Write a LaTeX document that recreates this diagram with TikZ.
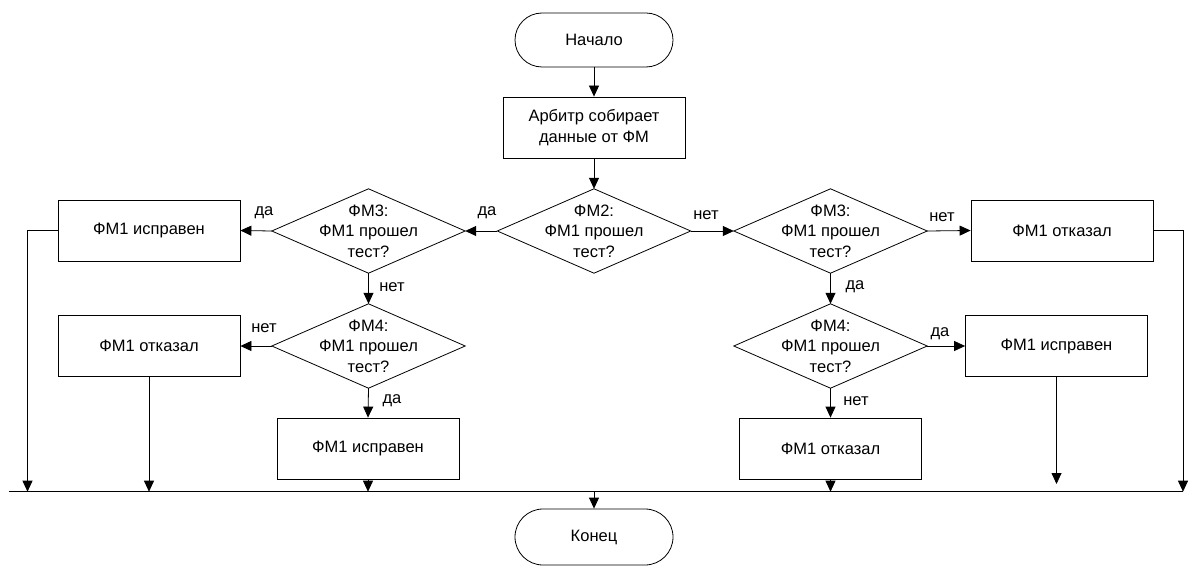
\documentclass[tikz,border=0pt]{standalone}
\usepackage{fontspec}
\setmainfont{Liberation Sans}
\usetikzlibrary{arrows.meta}
\begin{document}
\begin{tikzpicture}[x=1pt,y=-1pt,
  every node/.style={font=\fontsize{16.5}{20.5}\selectfont, inner sep=0pt},
  box/.style={draw, rectangle, minimum width=182pt, minimum height=61pt, align=center, line width=0.8pt},
  term/.style={draw, rectangle, rounded corners=27pt, minimum width=158pt, minimum height=54pt, line width=0.8pt},
  dia/.style={rectangle, minimum width=193pt, minimum height=84pt, align=center},
  diaedge/.style={draw, line width=0.8pt},
  conn/.style={line width=0.8pt},
  arr/.style={conn, -{Triangle[length=11pt,width=10pt]}},
  lbl/.style={}
]
\useasboundingbox (0,0) rectangle (1190,567);

% nodes
\node[term] (start) at (594,40) {Начало};
\node[box] (arb) at (594,127.5) {Арбитр собирает\\данные от ФМ};
\node[dia] (d2) at (594,231) {ФМ2:\\ФМ1 прошел\\тест?};
\node[dia] (d3L) at (368.5,231) {ФМ3:\\ФМ1 прошел\\тест?};
\node[dia] (d3R) at (830.5,231) {ФМ3:\\ФМ1 прошел\\тест?};
\node[dia] (d4L) at (368.5,346) {ФМ4:\\ФМ1 прошел\\тест?};
\node[dia] (d4R) at (830.5,346) {ФМ4:\\ФМ1 прошел\\тест?};
\foreach \d in {d2,d3L,d3R,d4L,d4R}{
  \draw[diaedge] (\d.north) -- (\d.east) -- (\d.south) -- (\d.west) -- cycle;
}
\node[box] (bL1) at (149,230.5) {ФМ1 исправен};
\node[box] (bL2) at (149,346) {ФМ1 отказал};
\node[box] (bC1) at (368,448.5) {ФМ1 исправен};
\node[box] (bC2) at (830.5,448.5) {ФМ1 отказал};
\node[box] (bR1) at (1062,230.5) {ФМ1 отказал};
\node[box] (bR2) at (1056.5,346) {ФМ1 исправен};
\node[term, minimum height=56pt, rounded corners=28pt] (end) at (594,537) {Конец};

% bus
\coordinate (busL) at (9,491.7);
\coordinate (busR) at (1183,491.7);
\coordinate (jA) at (27.5,491.7);
\coordinate (jB) at (149,491.7);
\coordinate (jE) at (1056.5,484);
\coordinate (jF) at (1183,491.7);
\coordinate (bus) at (594,491.7);
\draw[conn] (busL) -- (busR);

% main flow
\draw[arr] (start) -- (arb);
\draw[arr] (arb) -- (d2.north);
\draw[arr] (d2.west) -- (d3L.east);
\draw[arr] (d2.east) -- (d3R.west);
\draw[arr] (d3L.west) -- (bL1.east);
\draw[arr] (d3L.south) -- (d4L.north);
\draw[arr] (d4L.west) -- (bL2.east);
\draw[arr] (d4L.south) -- (bC1.north);
\draw[arr] (d3R.east) -- (bR1.west);
\draw[arr] (d3R.south) -- (d4R.north);
\draw[arr] (d4R.east) -- (d4R.east -| bR2.west);
\draw[arr] (d4R.south) -- (bC2.north);

% to bus
\draw[arr] (bL1.west) -| (jA);
\draw[arr] (bL2.south) -- (jB);
\draw[arr] (bC1.south) -- (bC1.south |- bus);
\draw[arr] (bC2.south) -- (bC2.south |- bus);
\draw[arr] (bR2.south -| jE) -- (jE);
\draw[arr] (bR1.east) -| (jF);
\draw[arr] (bus) -- (end);

% labels
\node[lbl] (l1) at (264,213) {да};
\node[lbl] (l2) at (487,213) {да};
\node[lbl] (l3) at (706,215) {нет};
\node[lbl] (l4) at (942,217) {нет};
\node[lbl] (l5) at (392,287) {нет};
\node[lbl] (l6) at (855,287) {да};
\node[lbl] (l7) at (264,328) {нет};
\node[lbl] (l8) at (940,334) {да};
\node[lbl] (l9) at (392,401) {да};
\node[lbl] (l10) at (856,401) {нет};
\end{tikzpicture}
\end{document}
